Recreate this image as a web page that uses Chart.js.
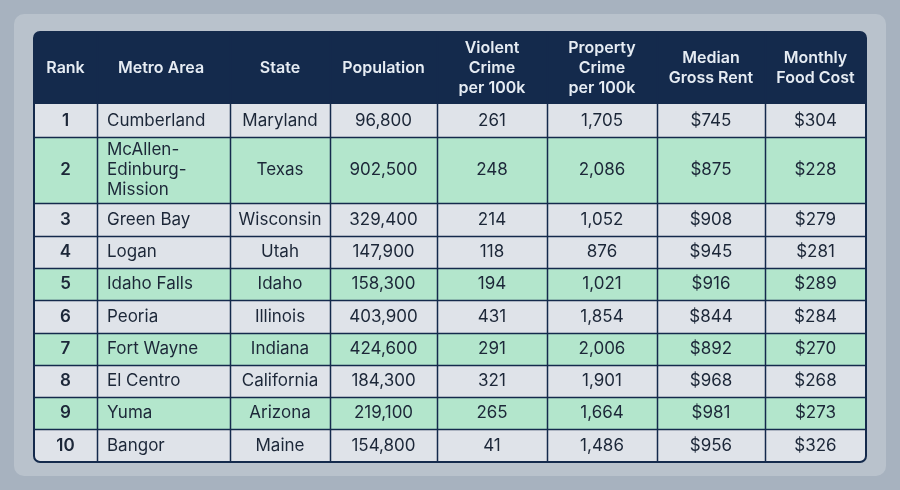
<!DOCTYPE html><html><head><meta charset="utf-8">
<script src="https://cdn.jsdelivr.net/npm/chart.js@4/dist/chart.umd.min.js"></script>
<style>html,body{margin:0;background:#a7b2bf;}#w{position:absolute;left:14px;top:14px;width:872px;height:462px;background:#b9c2cc;border-radius:10px;}canvas{position:absolute;left:0;top:0}</style>
</head><body><div id="w"></div><canvas id="c" width="900" height="490"></canvas>
<script>
const headers=[["Rank"],["Metro Area"],["State"],["Population"],["Violent","Crime","per 100k"],["Property","Crime","per 100k"],["Median","Gross Rent"],["Monthly","Food Cost"]];
const ranks=["1","2","3","4","5","6","7","8","9","10"];
const metros=[["Cumberland"],["McAllen-","Edinburg-","Mission"],["Green Bay"],["Logan"],["Idaho Falls"],["Peoria"],["Fort Wayne"],["El Centro"],["Yuma"],["Bangor"]];
const states=["Maryland","Texas","Wisconsin","Utah","Idaho","Illinois","Indiana","California","Arizona","Maine"];
const population=["96,800","902,500","329,400","147,900","158,300","403,900","424,600","184,300","219,100","154,800"];
const violent=["261","248","214","118","194","431","291","321","265","41"];
const property=["1,705","2,086","1,052","876","1,021","1,854","2,006","1,901","1,664","1,486"];
const rent=["$745","$875","$908","$945","$916","$844","$892","$968","$981","$956"];
const food=["$304","$228","$279","$281","$289","$284","$270","$268","$273","$326"];
const colEdges=[0,63,196,296,403,513,623,731,832];
const rowEdges=[0,72,105,171,204,236,268,301,333,365,397,430];
const rowColors=["#dfe3e9","#b3e6cc","#dfe3e9","#dfe3e9","#b3e6cc","#dfe3e9","#b3e6cc","#dfe3e9","#b3e6cc","#dfe3e9"];
const navy="#142a4c";
const cols=[ranks.map(r=>[r]),metros,states.map(s=>[s]),population.map(s=>[s]),violent.map(s=>[s]),property.map(s=>[s]),rent.map(s=>[s]),food.map(s=>[s])];
const tablePlugin={id:'tbl',afterDraw(ch){const c=ch.ctx,X=ch.scales.x,Y=ch.scales.y;
 const x0=X.getPixelForValue(0),x1=X.getPixelForValue(832),y0=Y.getPixelForValue(0),y1=Y.getPixelForValue(430);
 c.save();c.beginPath();c.roundRect(x0,y0,x1-x0,y1-y0,6);c.clip();
 c.fillStyle=navy;c.fillRect(x0,y0,x1-x0,Y.getPixelForValue(72)-y0);
 for(let r=0;r<10;r++){const a=Y.getPixelForValue(rowEdges[r+1]),b=Y.getPixelForValue(rowEdges[r+2]);c.fillStyle=rowColors[r];c.fillRect(x0,a,x1-x0,b-a);}
 c.strokeStyle=navy;c.lineWidth=1.5;
 for(let r=2;r<11;r++){const y=Math.round(Y.getPixelForValue(rowEdges[r]))+0.5;c.beginPath();c.moveTo(x0,y);c.lineTo(x1,y);c.stroke();}
 for(let k=1;k<8;k++){const x=Math.round(X.getPixelForValue(colEdges[k]))+0.5;c.beginPath();c.moveTo(x,y0);c.lineTo(x,y1);c.stroke();}
 c.textBaseline='middle';
 // headers
 c.font='600 16px Inter';c.fillStyle='#e6ecf3';
 for(let k=0;k<8;k++){const h=headers[k];const cy=(Y.getPixelForValue(0)+Y.getPixelForValue(72))/2;const lh=20;
  h.forEach((t,i)=>{const y=cy+(i-(h.length-1)/2)*lh;
   if(k==1){c.textAlign='left';c.fillText(t,X.getPixelForValue(colEdges[1])+21,y);}else{c.textAlign='center';c.fillText(t,(X.getPixelForValue(colEdges[k])+X.getPixelForValue(colEdges[k+1]))/2,y);}});}
 for(let r=0;r<10;r++){const cy=(Y.getPixelForValue(rowEdges[r+1])+Y.getPixelForValue(rowEdges[r+2]))/2;
  for(let k=0;k<8;k++){const lines=cols[k][r];c.fillStyle='#1c2738';c.font=(k==0?'600 ':'400 ')+'17px Inter';
   lines.forEach((t,i)=>{const y=cy+(i-(lines.length-1)/2)*20;
    if(k==1){c.textAlign='left';c.fillText(t,X.getPixelForValue(colEdges[1])+10,y);}else{c.textAlign='center';c.fillText(t,(X.getPixelForValue(colEdges[k])+X.getPixelForValue(colEdges[k+1]))/2,y);}});}}
 c.restore();
 c.strokeStyle=navy;c.lineWidth=2;c.beginPath();c.roundRect(x0,y0,x1-x0,y1-y0,6);c.stroke();
}};
new Chart(document.getElementById('c'),{type:'scatter',data:{datasets:[{data:[]}]},
 options:{responsive:false,animation:false,layout:{padding:{left:34,right:34,top:32,bottom:28}},
 plugins:{legend:{display:false},tooltip:{enabled:false}},
 scales:{x:{type:'linear',min:0,max:832,display:false},y:{type:'linear',min:0,max:430,reverse:true,display:false}}},
 plugins:[tablePlugin]});
</script></body></html>
